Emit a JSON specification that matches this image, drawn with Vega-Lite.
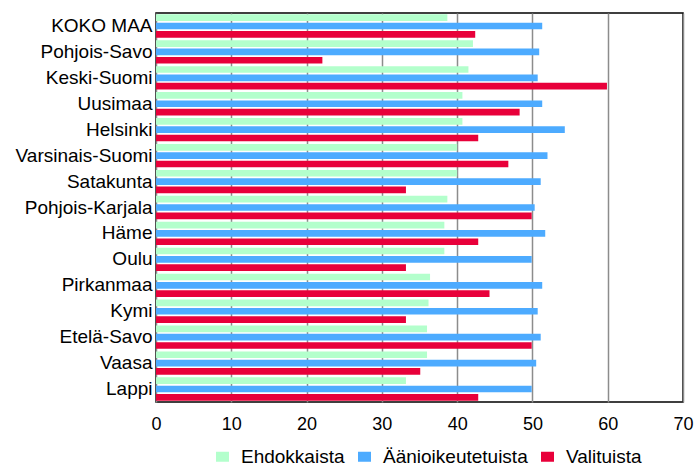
{
  "$schema": "https://vega.github.io/schema/vega-lite/v6.json",
  "width": 527,
  "height": 389,
  "autosize": "none",
  "padding": {"left": 156, "top": 13, "right": 11, "bottom": 62},
  "background": "#ffffff",
  "config": {
    "view": {"stroke": "#000000", "strokeWidth": 1.5},
    "font": "Liberation Sans"
  },
  "data": {
    "values": [
      {"region": "KOKO MAA", "series": "Ehdokkaista", "value": 38.7},
      {"region": "KOKO MAA", "series": "Äänioikeutetuista", "value": 51.3},
      {"region": "KOKO MAA", "series": "Valituista", "value": 42.4},
      {"region": "Pohjois-Savo", "series": "Ehdokkaista", "value": 42.1},
      {"region": "Pohjois-Savo", "series": "Äänioikeutetuista", "value": 50.9},
      {"region": "Pohjois-Savo", "series": "Valituista", "value": 22.1},
      {"region": "Keski-Suomi", "series": "Ehdokkaista", "value": 41.5},
      {"region": "Keski-Suomi", "series": "Äänioikeutetuista", "value": 50.7},
      {"region": "Keski-Suomi", "series": "Valituista", "value": 59.9},
      {"region": "Uusimaa", "series": "Ehdokkaista", "value": 40.7},
      {"region": "Uusimaa", "series": "Äänioikeutetuista", "value": 51.3},
      {"region": "Uusimaa", "series": "Valituista", "value": 48.3},
      {"region": "Helsinki", "series": "Ehdokkaista", "value": 40.7},
      {"region": "Helsinki", "series": "Äänioikeutetuista", "value": 54.3},
      {"region": "Helsinki", "series": "Valituista", "value": 42.8},
      {"region": "Varsinais-Suomi", "series": "Ehdokkaista", "value": 40.0},
      {"region": "Varsinais-Suomi", "series": "Äänioikeutetuista", "value": 52.0},
      {"region": "Varsinais-Suomi", "series": "Valituista", "value": 46.8},
      {"region": "Satakunta", "series": "Ehdokkaista", "value": 40.0},
      {"region": "Satakunta", "series": "Äänioikeutetuista", "value": 51.1},
      {"region": "Satakunta", "series": "Valituista", "value": 33.2},
      {"region": "Pohjois-Karjala", "series": "Ehdokkaista", "value": 38.7},
      {"region": "Pohjois-Karjala", "series": "Äänioikeutetuista", "value": 50.3},
      {"region": "Pohjois-Karjala", "series": "Valituista", "value": 49.9},
      {"region": "Häme", "series": "Ehdokkaista", "value": 38.3},
      {"region": "Häme", "series": "Äänioikeutetuista", "value": 51.7},
      {"region": "Häme", "series": "Valituista", "value": 42.8},
      {"region": "Oulu", "series": "Ehdokkaista", "value": 38.3},
      {"region": "Oulu", "series": "Äänioikeutetuista", "value": 49.9},
      {"region": "Oulu", "series": "Valituista", "value": 33.2},
      {"region": "Pirkanmaa", "series": "Ehdokkaista", "value": 36.4},
      {"region": "Pirkanmaa", "series": "Äänioikeutetuista", "value": 51.3},
      {"region": "Pirkanmaa", "series": "Valituista", "value": 44.3},
      {"region": "Kymi", "series": "Ehdokkaista", "value": 36.2},
      {"region": "Kymi", "series": "Äänioikeutetuista", "value": 50.7},
      {"region": "Kymi", "series": "Valituista", "value": 33.2},
      {"region": "Etelä-Savo", "series": "Ehdokkaista", "value": 36.0},
      {"region": "Etelä-Savo", "series": "Äänioikeutetuista", "value": 51.1},
      {"region": "Etelä-Savo", "series": "Valituista", "value": 49.9},
      {"region": "Vaasa", "series": "Ehdokkaista", "value": 36.0},
      {"region": "Vaasa", "series": "Äänioikeutetuista", "value": 50.5},
      {"region": "Vaasa", "series": "Valituista", "value": 35.1},
      {"region": "Lappi", "series": "Ehdokkaista", "value": 33.2},
      {"region": "Lappi", "series": "Äänioikeutetuista", "value": 49.9},
      {"region": "Lappi", "series": "Valituista", "value": 42.8}
    ]
  },
  "mark": {"type": "bar"},
  "encoding": {
    "y": {
      "field": "region",
      "type": "nominal",
      "sort": ["KOKO MAA", "Pohjois-Savo", "Keski-Suomi", "Uusimaa", "Helsinki", "Varsinais-Suomi", "Satakunta", "Pohjois-Karjala", "Häme", "Oulu", "Pirkanmaa", "Kymi", "Etelä-Savo", "Vaasa", "Lappi"],
      "scale": {"paddingInner": 0.1, "paddingOuter": 0.05},
      "axis": {
        "title": null,
        "domain": false,
        "ticks": false,
        "labelPadding": 4,
        "labelFontSize": 19,
        "labelColor": "#000000",
        "labelFont": "Liberation Sans"
      }
    },
    "yOffset": {
      "field": "series",
      "type": "nominal",
      "sort": ["Ehdokkaista", "Äänioikeutetuista", "Valituista"],
      "scale": {"paddingInner": 0.2, "paddingOuter": 0}
    },
    "x": {
      "field": "value",
      "type": "quantitative",
      "scale": {"domain": [0, 70], "nice": false},
      "axis": {
        "title": null,
        "values": [0, 10, 20, 30, 40, 50, 60, 70],
        "domain": false,
        "ticks": false,
        "tickSize": 0,
        "labelPadding": 13,
        "labelFontSize": 18,
        "labelColor": "#000000",
        "labelFlush": false,
        "labelFont": "Liberation Sans",
        "grid": true,
        "gridColor": "#8c8c8c",
        "gridWidth": 1.5
      }
    },
    "color": {
      "field": "series",
      "type": "nominal",
      "sort": ["Ehdokkaista", "Äänioikeutetuista", "Valituista"],
      "scale": {
        "domain": ["Ehdokkaista", "Äänioikeutetuista", "Valituista"],
        "range": ["#b3ffcc", "#4dabff", "#e8003a"]
      },
      "legend": {
        "title": null,
        "orient": "none",
        "direction": "horizontal",
        "legendX": 57,
        "legendY": 434,
        "symbolType": "M-1.3,-1H1.3V1H-1.3Z",
        "symbolSize": 100,
        "symbolStrokeWidth": 0,
        "labelFontSize": 19,
        "labelColor": "#000000",
        "labelFont": "Liberation Sans",
        "labelOffset": 9,
        "columnPadding": 10,
        "labelLimit": 300
      }
    }
  }
}
